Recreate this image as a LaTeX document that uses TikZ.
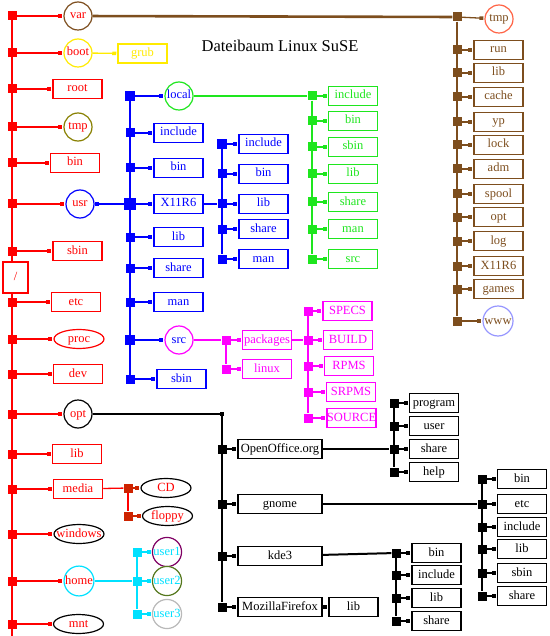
\documentclass[tikz,border=0pt]{standalone}
\usepackage{fontspec}
\setmainfont{Liberation Serif}
\usetikzlibrary{arrows.meta,shapes.geometric}
\definecolor{cRed}{RGB}{255,0,0}
\definecolor{cBrown}{RGB}{125,78,30}
\definecolor{cBlue}{RGB}{0,0,255}
\definecolor{cGreen}{RGB}{30,230,30}
\definecolor{cMag}{RGB}{255,0,255}
\definecolor{cCyan}{RGB}{0,225,255}
\definecolor{cYellow}{RGB}{255,235,0}
\definecolor{cOlive}{RGB}{136,128,0}
\definecolor{cUserA}{RGB}{128,0,100}
\definecolor{cUserB}{RGB}{85,120,30}
\definecolor{cUserC}{RGB}{185,185,185}
\definecolor{cTmp}{RGB}{255,100,70}
\definecolor{cWww}{RGB}{150,150,255}
\definecolor{cDark}{RGB}{205,35,0}
\tikzset{
  lbl/.style={font=\fontsize{12.5}{14}\selectfont, text height=8.5pt, text depth=2.5pt},
  box/.style={draw, line width=1.5pt, fill=white, minimum width=49pt, minimum height=19pt, inner sep=0pt, lbl},
  wbox/.style={box, minimum width=84pt},
  circ/.style={circle, draw, line width=1.2pt, fill=white, minimum size=28pt, inner sep=0pt, lbl},
  ell/.style={ellipse, draw, line width=1.2pt, fill=white, minimum width=50pt, minimum height=19pt, inner xsep=-6pt, inner ysep=-1pt, lbl},
  jn/.style={rectangle, fill, minimum size=9pt, inner sep=0pt},
  bigjn/.style={jn, minimum size=12pt},
  tinyjn/.style={jn, minimum size=4pt},
  conn/.style={line width=1.3pt, -{Square[length=4pt,width=3.5pt]}, shorten >=1pt},
  link/.style={line width=1.3pt},
  spine/.style={line width=1.9pt},
}
\begin{document}
\begin{tikzpicture}[x=1pt,y=-1pt]
\useasboundingbox (0,0) rectangle (549,636);

% title
\node[font=\fontsize{16.5}{18}\selectfont] (title) at (280,46) {Dateibaum Linux SuSE};

% ---------- left red column ----------
\coordinate (rtop) at (12,11);
\coordinate (rbot) at (12,636);
\draw[spine, cRed] (rtop) -- (rbot);

\node[circ, draw=cBrown, text=cRed] (var) at (78,16) {var};
\node[circ, draw=cYellow, text=cRed] (boot) at (78,53) {boot};
\node[box, draw=cRed, text=cRed] (root) at (77.5,89) {root};
\node[circ, draw=cOlive, text=cRed] (tmpA) at (78,127) {tmp};
\node[box, draw=cRed, text=cRed] (binA) at (75,163) {bin};
\node[circ, draw=cBlue, text=cRed] (usr) at (80,204) {usr};
\node[box, draw=cRed, text=cRed] (sbinA) at (77.5,251) {sbin};
\node[box, draw=cRed, text=cRed] (etcA) at (76,302) {etc};
\node[ell, draw=cRed, text=cRed] (proc) at (79,339) {proc};
\node[box, draw=cRed, text=cRed] (dev) at (78,374) {dev};
\node[circ, draw=black, text=cRed] (opt) at (78,414) {opt};
\node[box, draw=cRed, text=cRed] (libA) at (77,454) {lib};
\node[box, draw=cRed, text=cRed] (media) at (78,489) {media};
\node[ell, draw=black, text=cRed] (windows) at (79,534) {windows};
\node[circ, draw=cCyan, text=cRed] (home) at (79,581) {home};
\node[ell, draw=black, text=cRed] (mnt) at (78.5,624) {mnt};

\foreach \n/\y in {var/16,boot/53,root/89,tmpA/127,binA/163,usr/204,sbinA/251,etcA/302,proc/339,dev/374,opt/414,libA/454,media/489,windows/534,home/581,mnt/624}
  {\node[jn, fill=cRed] (s-\n) at (12,\y) {};}
\foreach \n in {root,tmpA,binA,sbinA,etcA,proc,dev,libA,media,windows,home,mnt,var,boot,usr,opt}
  {\draw[conn, cRed] (s-\n) -- (\n);}

\node[box, draw=cRed, text=cRed, minimum width=25pt, minimum height=31pt] (slash) at (15.5,277.5) {/};

% grub
\node[box, draw=cYellow, text=cYellow] (grub) at (142.5,53.5) {grub};
\draw[conn, cYellow] (boot) -- (grub);

% media
\node[jn, fill=cDark] (m1) at (128,488) {};
\node[jn, fill=cDark] (m2) at (128,516) {};
\node[ell, draw=black, text=cRed] (cd) at (166,488) {CD};
\node[ell, draw=black, text=cRed] (floppy) at (167.5,516) {floppy};
\draw[link, cRed] (media) -- (m1);
\draw[spine, cRed] (m1) -- (m2);
\draw[conn, cDark] (m1) -- (cd);
\draw[conn, cDark] (m2) -- (floppy);

% home
\node[jn, fill=cCyan] (h1) at (137,552) {};
\node[jn, fill=cCyan] (h2) at (137,581) {};
\node[jn, fill=cCyan] (h3) at (137,614) {};
\draw[spine, cCyan] (h1) -- (h3);
\draw[link, cCyan] (home) -- (h2);
\node[circ, draw=cUserA, text=cCyan, minimum size=29pt] (user1) at (167,552) {user1};
\node[circ, draw=cUserB, text=cCyan, minimum size=29pt] (user2) at (167,581) {user2};
\node[circ, draw=cUserC, text=cCyan, minimum size=29pt] (user3) at (167,614) {user3};
\draw[conn, cCyan] (h1) -- (user1);
\draw[conn, cCyan] (h2) -- (user2);
\draw[conn, cCyan] (h3) -- (user3);

% ---------- usr (blue) ----------
\coordinate (utop) at (130,96);
\coordinate (ubot) at (130,379);
\draw[spine, cBlue] (utop) -- (ubot);
\node[bigjn, fill=cBlue] (uX) at (130,204) {};
\draw[line width=2pt, cBlue, {Square[length=4pt,width=3.5pt]}-] (usr) -- (uX);

\node[circ, draw=cGreen, text=cBlue] (local) at (179,96) {local};
\node[circ, draw=cMag, text=cBlue] (src) at (179,340) {src};
\foreach \i/\y/\t in {1/133/include,2/168/bin,3/204/X11R6,4/237/lib,5/268/share,6/302/man}
  {\node[box, draw=cBlue, text=cBlue] (ub\i) at (178.5,\y) {\t};}
\node[box, draw=cBlue, text=cBlue] (ub7) at (181.5,379) {sbin};
\foreach \i/\y in {1/133,2/168,4/237,5/268,6/302,7/379}
  {\node[jn, fill=cBlue] (uj\i) at (130,\y) {};
   \draw[conn, cBlue] (uj\i) -- (ub\i);}
\node[jn, fill=cBlue, minimum size=10pt] (ujL) at (130,96) {};
\node[jn, fill=cBlue, minimum size=10pt] (ujS) at (130,340) {};
\draw[conn, cBlue, line width=1.8pt] (ujL) -- (local);
\draw[conn, cBlue, line width=1.8pt] (ujS) -- (src);
\draw[conn, cBlue, line width=1.8pt] (uX) -- (ub3);

% X11R6 children
\node[jn, fill=cBlue, minimum size=10pt] (xj1) at (222,144) {};
\node[jn, fill=cBlue] (xj2) at (222,174) {};
\node[jn, fill=cBlue] (xj3) at (222,204) {};
\node[jn, fill=cBlue] (xj4) at (222,229) {};
\node[jn, fill=cBlue] (xj5) at (222,259) {};
\draw[spine, cBlue] (xj1) -- (xj5);
\draw[link, cBlue, line width=1.8pt] (ub3) -- (xj3);
\foreach \i/\y/\t in {1/144/include,2/174/bin,3/204/lib,4/229/share,5/259/man}
  {\node[box, draw=cBlue, text=cBlue] (xb\i) at (263.5,\y) {\t};
   \draw[conn, cBlue] (xj\i) -- (xb\i);}

% local children (green)
\foreach \i/\y/\t in {1/96/include,2/121/bin,3/147/sbin,4/174/lib,5/202/share,6/229/man,7/259/src}
  {\node[box, draw=cGreen, text=cGreen] (lb\i) at (353,\y) {\t};
   \node[jn, fill=cGreen] (lj\i) at (312,\y) {};
   \draw[conn, cGreen] (lj\i) -- (lb\i);}
\draw[spine, cGreen] (lj1) -- (lj7);
\draw[link, cGreen] (local) -- (lj1);

% src children (magenta)
\node[jn, fill=cMag] (sj1) at (226,340) {};
\node[jn, fill=cMag] (sj2) at (226,369) {};
\draw[spine, cMag] (sj1) -- (sj2);
\draw[link, cMag] (src) -- (sj1);
\node[box, draw=cMag, text=cMag] (packages) at (267,340) {packages};
\node[box, draw=cMag, text=cMag] (linux) at (267,369) {linux};
\draw[conn, cMag] (sj1) -- (packages);
\draw[conn, cMag] (sj2) -- (linux);

\foreach \i/\y/\t/\x in {1/311/SPECS/347.5,2/340/BUILD/348,3/366/RPMS/349,4/392/SRPMS/351,5/418/SOURCE/351.5}
  {\node[box, draw=cMag, text=cMag] (pb\i) at (\x,\y) {\t};
   \node[jn, fill=cMag] (pj\i) at (308,\y) {};
   \draw[conn, cMag] (pj\i) -- (pb\i);}
\draw[spine, cMag] (pj1) -- (pj5);
\draw[link, cMag] (packages) -- (pj2);

% ---------- var (brown) ----------
\node[jn, fill=cBrown] (vj0) at (457,17) {};
\node[jn, fill=cBrown] (vj12) at (457,321) {};
\draw[spine, cBrown, line width=2.2pt] (vj0) -- (vj12);
\draw[line width=2.6pt, cBrown] (var) -- (vj0);
\node[circ, draw=cTmp, text=cBrown] (tmpB) at (499,19) {tmp};
\node[circ, draw=cWww, text=cBrown, minimum size=30pt] (www) at (498,321) {www};
\draw[conn, cBrown] (vj0) -- (tmpB);
\draw[conn, cBrown] (vj12) -- (www);
\foreach \i/\y/\t in {1/50/run,2/73/lib,3/97/cache,4/122/yp,5/145/lock,6/169/adm,7/194/spool,8/217/opt,9/241/log,10/266/X11R6,11/289/games}
  {\node[box, draw=cBrown, text=cBrown] (vb\i) at (498.5,\y) {\t};
   \node[jn, fill=cBrown] (vj\i) at (457,\y) {};
   \draw[conn, cBrown] (vj\i) -- (vb\i);}

% ---------- opt (black) ----------
\node[tinyjn, fill=black] (oj0) at (222,414) {};
\draw[link] (opt) -- (oj0);
\node[jn, fill=black] (oj4) at (222,607) {};
\draw[link] (oj0) -- (oj4);
\node[wbox] (oo) at (280,449) {OpenOffice.org};
\node[wbox] (gnome) at (280,504) {gnome};
\node[wbox] (kde) at (280,556) {kde3};
\node[wbox] (moz) at (280,607) {MozillaFirefox};
\node[jn, fill=black] (oj1) at (222,449) {};
\node[jn, fill=black] (oj2) at (222,504) {};
\node[jn, fill=black] (oj3) at (222,556) {};
\draw[conn] (oj1) -- (oo);
\draw[conn] (oj2) -- (gnome);
\draw[conn] (oj3) -- (kde);
\draw[conn] (oj4) -- (moz);
\node[box] (mozlib) at (353.5,607) {lib};
\draw[conn] (moz) -- (mozlib);

% OpenOffice children
\foreach \i/\y/\t in {1/403/program,2/426/user,3/449/share,4/472/help}
  {\node[box] (ob\i) at (434,\y) {\t};
   \node[jn, fill=black] (ooj\i) at (394,\y) {};
   \draw[conn] (ooj\i) -- (ob\i);}
\draw[spine] (ooj1) -- (ooj4);
\draw[link] (oo) -- (ooj3);

% gnome children
\foreach \i/\y/\t in {1/479/bin,2/504/etc,3/527/include,4/549/lib,5/573/sbin,6/596/share}
  {\node[box] (gb\i) at (522,\y) {\t};
   \node[jn, fill=black] (gj\i) at (482,\y) {};
   \draw[conn] (gj\i) -- (gb\i);}
\draw[spine] (gj1) -- (gj6);
\draw[line width=2pt] (gnome) -- (gj2);

% kde3 children
\foreach \i/\y/\t in {1/553/bin,2/575/include,3/598/lib,4/621/share}
  {\node[box] (kb\i) at (436.5,\y) {\t};
   \node[jn, fill=black] (kj\i) at (396,\y) {};
   \draw[conn] (kj\i) -- (kb\i);}
\draw[spine] (kj1) -- (kj4);
\draw[line width=2pt] (kde) -- (kj1);
\end{tikzpicture}
\end{document}
